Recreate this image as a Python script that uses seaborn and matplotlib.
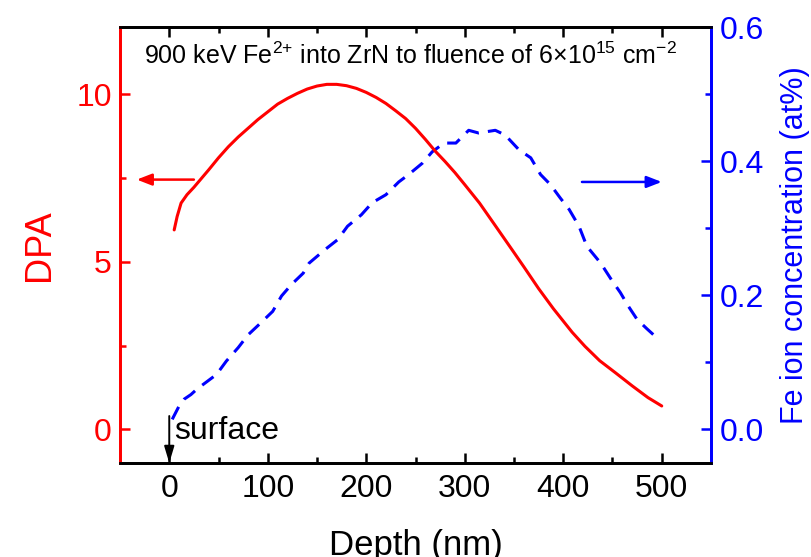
import matplotlib
matplotlib.use("Agg")
import matplotlib.pyplot as plt
import seaborn as sns
import pandas as pd

# DPA profile (left axis)
dpa_depth = [5, 8, 12, 18, 25, 40, 50, 60, 70, 80, 90, 100, 110, 120, 130, 140,
             150, 160, 170, 180, 190, 200, 210, 220, 230, 240, 250, 260, 270, 280,
             290, 300, 315, 330, 348, 360, 375, 390, 409, 422, 437, 453, 470, 486,
             500]
dpa_value = [5.95, 6.35, 6.75, 7.0, 7.22, 7.74, 8.1, 8.43, 8.72, 8.98, 9.24, 9.47,
             9.7, 9.87, 10.02, 10.15, 10.24, 10.29, 10.29, 10.25, 10.17, 10.05, 9.9,
             9.72, 9.5, 9.27, 8.98, 8.65, 8.3, 7.99, 7.66, 7.3, 6.75, 6.12, 5.36,
             4.85, 4.2, 3.6, 2.9, 2.48, 2.05, 1.69, 1.3, 0.95, 0.7]

# Fe concentration profile (right axis, at%)
fe_depth = [3, 10, 15, 22, 28, 48, 58, 70, 80, 93, 105, 114, 124, 136, 142, 158,
            171, 181, 195, 206, 220, 233, 243, 257, 267, 279, 291, 304, 314, 331,
            341, 355, 367, 377, 387, 397, 406, 416, 424, 438, 449, 458, 466, 475,
            485, 494]
fe_conc = [0.015, 0.035, 0.045, 0.052, 0.060, 0.082, 0.102, 0.122, 0.141, 0.159,
           0.176, 0.199, 0.216, 0.233, 0.248, 0.268, 0.283, 0.303, 0.320, 0.338,
           0.350, 0.369, 0.380, 0.397, 0.414, 0.427, 0.427, 0.446, 0.442, 0.446,
           0.439, 0.417, 0.405, 0.380, 0.365, 0.345, 0.328, 0.303, 0.273, 0.248,
           0.223, 0.204, 0.184, 0.164, 0.150, 0.138]

x_ticks = [0, 100, 200, 300, 400, 500]
dpa_ticks = [0, 5, 10]
fe_ticks = [0.0, 0.2, 0.4, 0.6]
fe_tick_labels = ["0.0", "0.2", "0.4", "0.6"]

sns.set_style("white")
FONT = ["Liberation Sans Narrow", "Liberation Sans", "DejaVu Sans"]
plt.rcParams["font.family"] = FONT
plt.rcParams["mathtext.fontset"] = "custom"
plt.rcParams["mathtext.rm"] = "Liberation Sans"
plt.rcParams["mathtext.it"] = "Liberation Sans:italic"
plt.rcParams["mathtext.bf"] = "Liberation Sans:bold"

RED = "#ff0000"
BLUE = "#0000ff"

fig = plt.figure(figsize=(8.12, 5.57), dpi=100)
ax = fig.add_axes([0.1478, 0.1688, 0.7278, 0.7827])
ax2 = ax.twinx()

dpa_df = pd.DataFrame({"depth": dpa_depth, "dpa": dpa_value})
fe_df = pd.DataFrame({"depth": fe_depth, "fe": fe_conc})

sns.lineplot(data=dpa_df, x="depth", y="dpa", ax=ax, color=RED, lw=2.2,
             sort=False, estimator=None)
sns.lineplot(data=fe_df, x="depth", y="fe", ax=ax2, color=BLUE, lw=2.2,
             linestyle=(0, (4.6, 3.0)), sort=False, estimator=None)

ax.set_xlim(-50, 550)
ax.set_ylim(-1, 12)
ax2.set_ylim(-0.05, 0.6)

ax.set_xticks(x_ticks)
ax.set_xticks([50, 150, 250, 350, 450], minor=True)
ax.set_yticks(dpa_ticks)
ax.set_yticks([2.5, 7.5], minor=True)
ax2.set_yticks(fe_ticks)
ax2.set_yticklabels(fe_tick_labels)
ax2.set_yticks([0.1, 0.3, 0.5], minor=True)

TICK_FS = 23
ax.tick_params(axis="x", which="both", direction="in", top=True, bottom=True,
               colors="black", labelsize=TICK_FS, width=1.8, pad=8)
ax.tick_params(axis="x", which="major", length=7)
ax.tick_params(axis="x", which="minor", length=4)
ax.tick_params(axis="y", which="both", direction="in", left=True, right=False,
               colors=RED, labelsize=TICK_FS, width=1.8, pad=6)
ax.tick_params(axis="y", which="major", length=7)
ax.tick_params(axis="y", which="minor", length=4)
ax2.tick_params(axis="y", which="both", direction="in", right=True, left=False,
                colors=BLUE, labelsize=TICK_FS, width=1.8, pad=6)
ax2.tick_params(axis="y", which="major", length=7)
ax2.tick_params(axis="y", which="minor", length=4)

for a in (ax, ax2):
    for side in ("top", "bottom", "left", "right"):
        a.spines[side].set_linewidth(2.0)
        a.spines[side].set_visible(True)
    a.spines["top"].set_color("black")
    a.spines["bottom"].set_color("black")
    a.spines["left"].set_color(RED)
    a.spines["right"].set_color(BLUE)

ax.set_xlabel("Depth (nm)", fontsize=25, color="black", labelpad=18)
ax.set_ylabel("DPA", fontsize=26, color=RED, labelpad=14)
ax2.set_ylabel("Fe ion concentration (at%)", fontsize=22, color=BLUE, labelpad=12)

ax.text(-26, 11.15,
        r"900 keV Fe$^{2{+}}$ into ZrN to fluence of "
        r"6×10$^{15}$ cm$^{{-}2}$",
        fontsize=18, color="black", ha="left", va="center")

# direction arrows pointing to each curve's axis
ax.annotate("", xy=(-33, 7.45), xytext=(25, 7.45),
            arrowprops=dict(arrowstyle="-|>,head_length=0.9,head_width=0.35",
                            color=RED, lw=1.8, shrinkA=0, shrinkB=0))
ax2.annotate("", xy=(500, 0.369), xytext=(419, 0.369),
             arrowprops=dict(arrowstyle="-|>,head_length=0.9,head_width=0.35",
                             color=BLUE, lw=1.8, shrinkA=0, shrinkB=0))

# surface marker at zero depth
ax.annotate("", xy=(0, -1), xytext=(0, 0.4),
            arrowprops=dict(arrowstyle="-|>,head_length=1.0,head_width=0.3",
                            color="black", lw=1.4, shrinkA=0, shrinkB=0))
ax.text(5, -0.05, "surface", fontsize=23, color="black", ha="left", va="center")

ax.set_zorder(ax2.get_zorder() + 1)
ax.patch.set_visible(False)

fig.savefig("out.png", dpi=100)
